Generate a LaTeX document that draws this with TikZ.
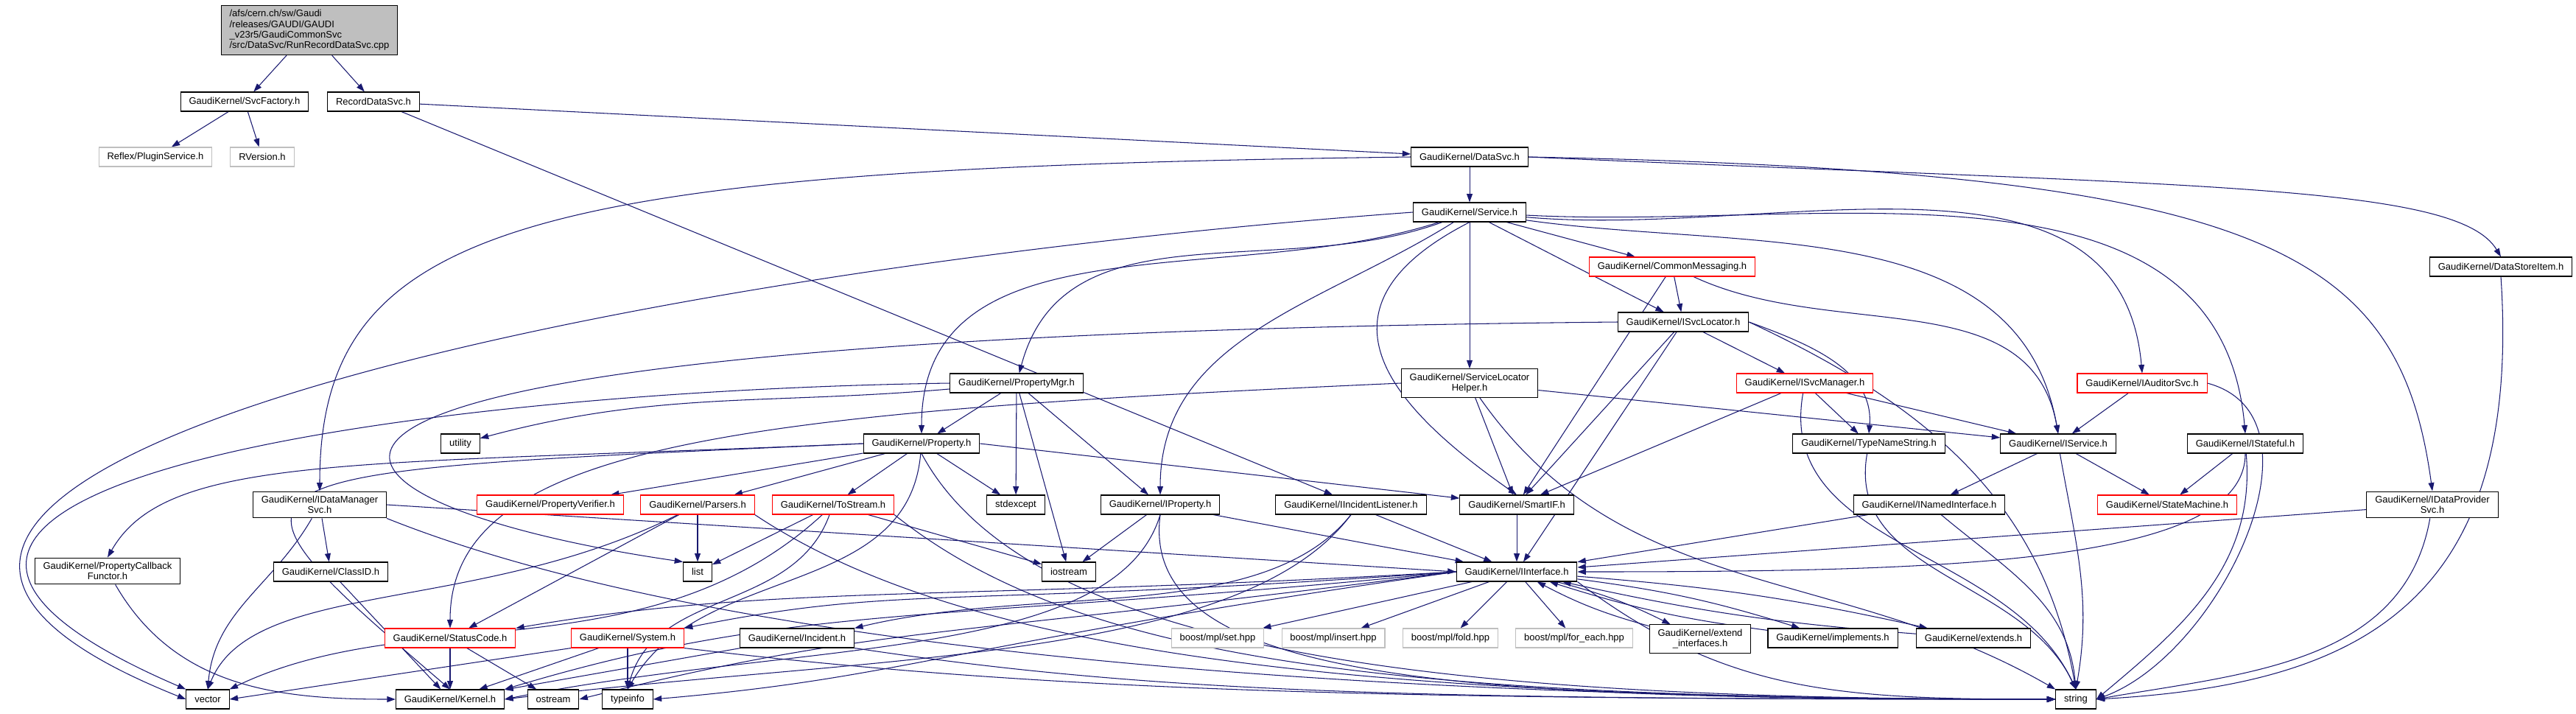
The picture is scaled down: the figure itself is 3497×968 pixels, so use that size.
\documentclass[tikz,border=0pt]{standalone}
\usepackage{fontspec}
\newfontfamily\graphfamily{Liberation Sans}
\usetikzlibrary{arrows.meta,backgrounds}
\definecolor{EdgeBlue}{HTML}{191970}
\definecolor{TruncRed}{HTML}{FF0000}
\definecolor{ExtGray}{HTML}{BFBFBF}
\newcommand{\graphfont}{\graphfamily\fontsize{7.4}{8.2}\selectfont}
\tikzset{
  file/.style={draw=black, fill=white, line width=0.6pt, font=\graphfont,
    inner xsep=6.5pt, inner ysep=0pt, minimum height=0.52cm},
  trunc/.style={file, draw=TruncRed},
  extfile/.style={file, draw=ExtGray},
  twoline/.style={align=center, inner ysep=3.4pt},
  dep/.style={draw=EdgeBlue, line width=0.6pt, -{Triangle[length=6.5pt,width=4.5pt]}}
}
\begin{document}
\begin{tikzpicture}[x=0.02cm, y=0.02cm]
  \useasboundingbox (0,0) rectangle (3497,-968);
  % Files
  \node[file, fill=ExtGray, align=left, inner ysep=3.4pt] (root) at (420,-41)
    {/afs/cern.ch/sw/Gaudi\\/releases/GAUDI/GAUDI\\\_v23r5/GaudiCommonSvc\\/src/DataSvc/RunRecordDataSvc.cpp};
  \node[file] (svcfac) at (332,-138) {GaudiKernel/SvcFactory.h};
  \node[file] (recdata) at (507,-138) {RecordDataSvc.h};
  \node[extfile] (plugin) at (211,-213) {Reflex/PluginService.h};
  \node[extfile] (rversion) at (356,-213) {RVersion.h};
  \node[file] (datasvc) at (1995,-213) {GaudiKernel/DataSvc.h};
  \node[file] (service) at (1995,-288) {GaudiKernel/Service.h};
  \node[trunc] (commsg) at (2270,-362) {GaudiKernel/CommonMessaging.h};
  \node[file] (storeitem) at (3395,-362) {GaudiKernel/DataStoreItem.h};
  \node[file] (svcloc) at (2285,-437) {GaudiKernel/ISvcLocator.h};
  \node[file] (propmgr) at (1380,-520) {GaudiKernel/PropertyMgr.h};
  \node[file, twoline] (slhelper) at (1995,-520) {GaudiKernel/ServiceLocator\\Helper.h};
  \node[trunc] (svcmgr) at (2450,-520) {GaudiKernel/ISvcManager.h};
  \node[trunc] (auditor) at (2908,-520) {GaudiKernel/IAuditorSvc.h};
  \node[file] (utility) at (625,-602) {utility};
  \node[file] (property) at (1251,-602) {GaudiKernel/Property.h};
  \node[file] (typename) at (2537,-602) {GaudiKernel/TypeNameString.h};
  \node[file] (iservice) at (2794,-602) {GaudiKernel/IService.h};
  \node[file] (istateful) at (3048,-602) {GaudiKernel/IStateful.h};
  \node[file, twoline] (datamgr) at (434,-685) {GaudiKernel/IDataManager\\Svc.h};
  \node[trunc] (verifier) at (747,-685) {GaudiKernel/PropertyVerifier.h};
  \node[trunc] (parsers) at (947,-685) {GaudiKernel/Parsers.h};
  \node[trunc] (tostream) at (1131,-685) {GaudiKernel/ToStream.h};
  \node[file] (stdexcept) at (1379,-685) {stdexcept};
  \node[file] (iproperty) at (1575,-685) {GaudiKernel/IProperty.h};
  \node[file] (listener) at (1834,-685) {GaudiKernel/IIncidentListener.h};
  \node[file] (smartif) at (2059,-685) {GaudiKernel/SmartIF.h};
  \node[file] (named) at (2619,-685) {GaudiKernel/INamedInterface.h};
  \node[trunc] (statemach) at (2942,-685) {GaudiKernel/StateMachine.h};
  \node[file, twoline] (provider) at (3302,-685) {GaudiKernel/IDataProvider\\Svc.h};
  \node[file, twoline] (callback) at (146,-775) {GaudiKernel/PropertyCallback\\Functor.h};
  \node[file] (classid) at (449,-776) {GaudiKernel/ClassID.h};
  \node[file] (list) at (947,-776) {list};
  \node[file] (iostream) at (1451,-776) {iostream};
  \node[file] (iinterface) at (2059,-776) {GaudiKernel/IInterface.h};
  \node[trunc] (statuscode) at (611,-866) {GaudiKernel/StatusCode.h};
  \node[trunc] (system) at (852,-866) {GaudiKernel/System.h};
  \node[file] (incident) at (1082,-866) {GaudiKernel/Incident.h};
  \node[extfile] (mplset) at (1653,-866) {boost/mpl/set.hpp};
  \node[extfile] (mplinsert) at (1810,-866) {boost/mpl/insert.hpp};
  \node[extfile] (mplfold) at (1969,-866) {boost/mpl/fold.hpp};
  \node[extfile] (mplforeach) at (2137,-866) {boost/mpl/for\_each.hpp};
  \node[file, twoline] (extendif) at (2308,-867) {GaudiKernel/extend\\\_interfaces.h};
  \node[file] (implements) at (2488,-866) {GaudiKernel/implements.h};
  \node[file] (extends) at (2679,-866) {GaudiKernel/extends.h};
  \node[file] (vector) at (282,-949) {vector};
  \node[file] (kernel) at (611,-949) {GaudiKernel/Kernel.h};
  \node[file] (ostream) at (751,-949) {ostream};
  \node[file] (typeinfo) at (852,-949) {typeinfo};
  \node[file] (string) at (2818,-949) {string};
  \begin{scope}[on background layer]
    % Top
    \draw[dep] (root) -- (svcfac);
    \draw[dep] (root) -- (recdata);
    \draw[dep] (svcfac) -- (plugin);
    \draw[dep] (svcfac) -- (rversion);
    \draw[dep] (recdata) -- (datasvc);
    \draw[dep] ([xshift=-0.5cm]recdata.south east) -- ([xshift=-0.5cm]listener.north);
    % DataSvc.h
    \draw[dep] (datasvc) -- (service);
    \draw[dep] (datasvc.west) .. controls +(-1200,-15) and +(0,365) .. (datamgr.north);
    \draw[dep] (datasvc.east) .. controls +(900,-40) and +(-60,100) .. (storeitem.north);
    \draw[dep] (datasvc.east) .. controls +(1000,-20) and +(-45,330) .. (provider.north);
    % Service.h
    \draw[dep] (service.west) .. controls +(-1100,-80) and +(-750,300) .. (vector.west);
    \draw[dep] (service) to[out=200,in=75] (propmgr);
    \draw[dep] (service) to[out=198,in=90] (property.north);
    \draw[dep] (service) to[out=212,in=90] (iproperty.north);
    \draw[dep] (service) -- (slhelper);
    \draw[dep] (service.south) .. controls +(-235,-120) and +(-160,112) .. (smartif.north);
    \draw[dep] (service) -- (commsg);
    \draw[dep] (service) -- (svcloc);
    \draw[dep] (service) to[out=-8,in=100] (iservice.north);
    \draw[dep] (service) to[out=-5,in=95] (auditor.north);
    \draw[dep] (service) to[out=-3,in=95] (istateful.north);
    % CommonMessaging.h
    \draw[dep] (commsg) -- (svcloc);
    \draw[dep] (commsg) -- (smartif);
    \draw[dep] (commsg) to[out=-25,in=100] (iservice.north);
    % ISvcLocator.h
    \draw[dep] (svcloc.west) .. controls +(-2100,-20) and +(-550,80) .. (list.north west);
    \draw[dep] (svcloc) -- (svcmgr);
    \draw[dep] (svcloc.east) to[out=-20,in=85] (typename.north);
    \draw[dep] (svcloc) -- (smartif);
    \draw[dep] (svcloc) -- (iinterface);
    \draw[dep] (svcloc.east) to[out=-25,in=100] (string.north);
    % PropertyMgr.h
    \draw[dep] (propmgr) to[out=185,in=15] (utility);
    \draw[dep] (propmgr.west) .. controls +(-700,-10) and +(-650,280) .. (vector.north west);
    \draw[dep] (propmgr) -- (property);
    \draw[dep] (propmgr) -- (stdexcept);
    \draw[dep] (propmgr) -- (iostream);
    \draw[dep] (propmgr) -- (iproperty);
    % ServiceLocatorHelper.h
    \draw[dep] (slhelper.west) .. controls +(-900,-40) and +(0,250) .. (statuscode.north);
    \draw[dep] (slhelper) -- (smartif);
    \draw[dep] (slhelper) -- (iservice);
    \draw[dep] (slhelper) to[out=-55,in=150] (string.north west);
    % ISvcManager.h, IAuditorSvc.h, IStateful.h
    \draw[dep] (svcmgr) -- (iservice);
    \draw[dep] (svcmgr) -- (typename);
    \draw[dep] (svcmgr) -- (smartif);
    \draw[dep] (svcmgr) to[out=-100,in=115] (string.north);
    \draw[dep] (auditor) -- (iservice);
    \draw[dep] (auditor.east) to[out=-15,in=20] (string.east);
    \draw[dep] (istateful) -- (statemach);
    \draw[dep] (istateful.south) .. controls +(0,-150) and +(500,0) .. (iinterface.east);
    \draw[dep] (istateful) to[out=-85,in=40] (string.east);
    % IService.h and friends
    \draw[dep] (iservice) -- (named);
    \draw[dep] (iservice) -- (statemach);
    \draw[dep] (iservice) to[out=-80,in=80] (string.north);
    \draw[dep] (named) -- (iinterface);
    \draw[dep] (named) to[out=-40,in=95] (string.north);
    \draw[dep] (provider) -- (iinterface);
    \draw[dep] (provider) to[out=-100,in=10] (string.east);
    \draw[dep] (storeitem.south) .. controls +(30,-450) and +(350,20) .. (string.east);
    \draw[dep] (typename) to[out=-100,in=115] (string.north);
    % IDataManagerSvc.h
    \draw[dep] (datamgr) -- (classid);
    \draw[dep] (datamgr) to[out=240,in=85] (vector.north);
    \draw[dep] (datamgr.east) -- (iinterface.west);
    \draw[dep] (datamgr.south east) .. controls +(500,-200) and +(-800,0) .. (string.west);
    % Property.h
    \draw[dep] (property.west) .. controls +(-700,-30) and +(80,140) .. (callback.north);
    \draw[dep] (property.west) .. controls +(-900,-40) and +(-350,300) .. (kernel.north);
    \draw[dep] (property) -- (verifier);
    \draw[dep] (property) -- (parsers);
    \draw[dep] (property) -- (tostream);
    \draw[dep] (property) -- (stdexcept);
    \draw[dep] (property.east) -- (smartif);
    \draw[dep] (property.south) .. controls +(150,-280) and +(-800,0) .. (string.west);
    \draw[dep] (property) to[out=-95,in=60] (typeinfo.north);
    % Parsers.h, ToStream.h
    \draw[dep] (parsers) .. controls +(-300,-150) and +(60,150) .. (vector.north);
    \draw[dep] (parsers) -- (list);
    \draw[dep] (parsers) -- (statuscode);
    \draw[dep] (parsers.south east) .. controls +(300,-200) and +(-900,0) .. (string.west);
    \draw[dep] (tostream) -- (list);
    \draw[dep] (tostream) -- (iostream);
    \draw[dep] (tostream) .. controls +(-250,-230) and +(250,120) .. (vector.north east);
    \draw[dep] (tostream.south east) .. controls +(250,-200) and +(-900,0) .. (string.west);
    \draw[dep] (tostream) to[out=250,in=75] (typeinfo.north);
    % IProperty.h, IIncidentListener.h, SmartIF.h
    \draw[dep] (iproperty) -- (iostream);
    \draw[dep] (iproperty) -- (iinterface);
    \draw[dep] (iproperty.south) .. controls +(-30,-230) and +(-800,0) .. (string.west);
    \draw[dep] (iproperty.south) .. controls +(-60,-200) and +(400,80) .. (kernel.east);
    \draw[dep] (listener) -- (iinterface);
    \draw[dep] (listener.south) .. controls +(-120,-150) and +(250,60) .. (incident.north east);
    \draw[dep] (listener.south) .. controls +(-150,-200) and +(500,60) .. (kernel.east);
    \draw[dep] (smartif) -- (iinterface);
    % IInterface.h
    \draw[dep] (iinterface) -- (mplset);
    \draw[dep] (iinterface) -- (mplinsert);
    \draw[dep] (iinterface) -- (mplfold);
    \draw[dep] (iinterface) -- (mplforeach);
    \draw[dep] (iinterface) to[bend left=6] (extendif);
    \draw[dep] (extendif) to[bend left=6] (iinterface);
    \draw[dep] (iinterface) to[bend left=5] (implements);
    \draw[dep] (implements) to[bend left=5] (iinterface);
    \draw[dep] (iinterface) to[bend left=4] (extends);
    \draw[dep] (extends) to[bend left=4] (iinterface);
    \draw[dep] (iinterface.west) .. controls +(-700,-40) and +(350,60) .. (statuscode.north east);
    \draw[dep] (iinterface.west) .. controls +(-700,-50) and +(300,60) .. (system.north east);
    \draw[dep] (iinterface.west) .. controls +(-700,-70) and +(400,120) .. (kernel.north east);
    \draw[dep] (iinterface.west) .. controls +(-700,-100) and +(350,30) .. (typeinfo.east);
    \draw[dep] (iinterface.west) .. controls +(-700,-90) and +(400,100) .. (ostream.east);
    \draw[dep] (iinterface.south east) .. controls +(200,-150) and +(-300,0) .. (string.west);
    % Bottom
    \draw[dep] (classid) -- (kernel);
    \draw[dep] (callback) to[out=-60,in=180] (kernel.west);
    \draw[dep] (statuscode) -- (kernel);
    \draw[dep] (statuscode) -- (ostream);
    \draw[dep] (system.south west) -- (vector.east);
    \draw[dep] (system) -- (kernel);
    \draw[dep] (system) -- (typeinfo);
    \draw[dep] (system.south east) .. controls +(500,-60) and +(-900,0) .. (string.west);
    \draw[dep] (incident) -- (kernel);
    \draw[dep] (incident.south east) .. controls +(400,-60) and +(-900,0) .. (string.west);
  \end{scope}
\end{tikzpicture}
\end{document}
